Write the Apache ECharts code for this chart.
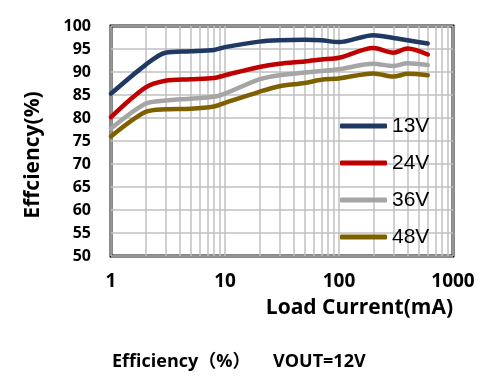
<!DOCTYPE html>
<html>
<head>
<meta charset="utf-8">
<script src="https://cdn.jsdelivr.net/npm/echarts@6/dist/echarts.min.js"></script>
<style>html,body{margin:0;padding:0;background:#fff;}#c{width:499px;height:384px;}</style>
</head>
<body>
<div id="c"></div>
<script>
var loadCurrent = [1, 2, 3, 5, 8, 10, 20, 30, 50, 70, 100, 200, 300, 400, 600];
var eff13V = [85.3, 91.5, 94.2, 94.5, 94.8, 95.4, 96.6, 96.9, 97.0, 96.9, 96.5, 98.0, 97.4, 96.9, 96.2];
var eff24V = [80.2, 86.6, 88.1, 88.4, 88.7, 89.3, 91.1, 91.8, 92.3, 92.7, 93.1, 95.2, 94.2, 95.1, 93.8];
var eff36V = [77.7, 83.1, 83.8, 84.2, 84.6, 85.3, 88.4, 89.3, 89.9, 90.2, 90.6, 91.8, 91.3, 91.9, 91.5];
var eff48V = [76.0, 81.3, 81.9, 82.0, 82.5, 83.3, 85.7, 86.9, 87.6, 88.3, 88.6, 89.7, 89.0, 89.6, 89.3];
var seriesNames = ['13V', '24V', '36V', '48V'];
var seriesColors = ['#1f3864', '#c00000', '#a5a5a5', '#7f6000'];
var minorGridValues = [2,3,4,5,6,7,8,9,20,30,40,50,60,70,80,90,200,300,400,500,600,700,800,900];
var yTicks = {min: 50, max: 100, interval: 5};

var boldFont = "'Open Sans', 'Noto Sans CJK SC', sans-serif";
function pairs(ys) { return loadCurrent.map(function (x, i) { return [x, ys[i]]; }); }
var allData = [eff13V, eff24V, eff36V, eff48V];

var series = allData.map(function (d, i) {
  var s = {
    name: seriesNames[i],
    type: 'line',
    data: pairs(d),
    smooth: 0.3,
    showSymbol: false,
    symbol: 'none',
    z: 3,
    lineStyle: {color: seriesColors[i], width: 4.5, cap: 'round', join: 'round'},
    itemStyle: {color: seriesColors[i]}
  };
  if (i === 0) {
    s.markLine = {
      z: 1,
      silent: true,
      animation: false,
      symbol: ['none', 'none'],
      label: {show: false},
      emphasis: {disabled: true},
      lineStyle: {color: '#c0c0c0', width: 1.5, type: 'solid'},
      data: minorGridValues.map(function (v) { return {xAxis: v}; })
    };
  }
  return s;
});

var chart = echarts.init(document.getElementById('c'), null, {renderer: 'canvas'});
chart.setOption({
  animation: false,
  backgroundColor: '#ffffff',
  grid: {left: 111, right: 46, top: 26, bottom: 128, show: true, borderColor: '#111', borderWidth: 3, backgroundColor: 'transparent'},
  xAxis: {
    type: 'log', logBase: 10, min: 1, max: 1000,
    axisLine: {show: false}, axisTick: {show: false},
    splitLine: {show: true, lineStyle: {color: '#c0c0c0', width: 1.5}},
    axisLabel: {fontSize: 19, fontWeight: 'bold', color: '#000', fontFamily: boldFont, margin: 16,
      formatter: function (v) { return String(Math.round(v)); }}
  },
  yAxis: {
    type: 'value', min: yTicks.min, max: yTicks.max, interval: yTicks.interval,
    axisLine: {show: false}, axisTick: {show: false},
    splitLine: {show: true, lineStyle: {color: '#c0c0c0', width: 1.5}},
    axisLabel: {fontSize: 16, fontWeight: 'bold', color: '#000', fontFamily: boldFont, margin: 20}
  },
  legend: {
    orient: 'vertical', left: 340, top: 115, padding: 0,
    itemWidth: 47, itemHeight: 5, itemGap: 15, icon: 'roundRect',
    data: seriesNames,
    textStyle: {fontSize: 21, color: '#000', fontFamily: "'Liberation Sans', Arial, sans-serif", lineHeight: 22}
  },
  graphic: [
    {type: 'text', x: 33, y: 155, rotation: Math.PI / 2, style: {text: 'Effciency(%)', align: 'center', verticalAlign: 'middle', font: 'bold 21px ' + boldFont, fill: '#000'}},
    {type: 'text', x: 453, y: 308, style: {text: 'Load Current(mA)', align: 'right', verticalAlign: 'middle', font: 'bold 21px ' + boldFont, fill: '#000'}},
    {type: 'text', x: 112, y: 362, style: {text: 'Efficiency（%）', align: 'left', verticalAlign: 'middle', font: 'bold 18px ' + boldFont, fill: '#000'}},
    {type: 'text', x: 273, y: 362, style: {text: 'VOUT=12V', align: 'left', verticalAlign: 'middle', font: 'bold 18px ' + boldFont, fill: '#000'}}
  ],
  series: series
});
</script>
</body>
</html>
